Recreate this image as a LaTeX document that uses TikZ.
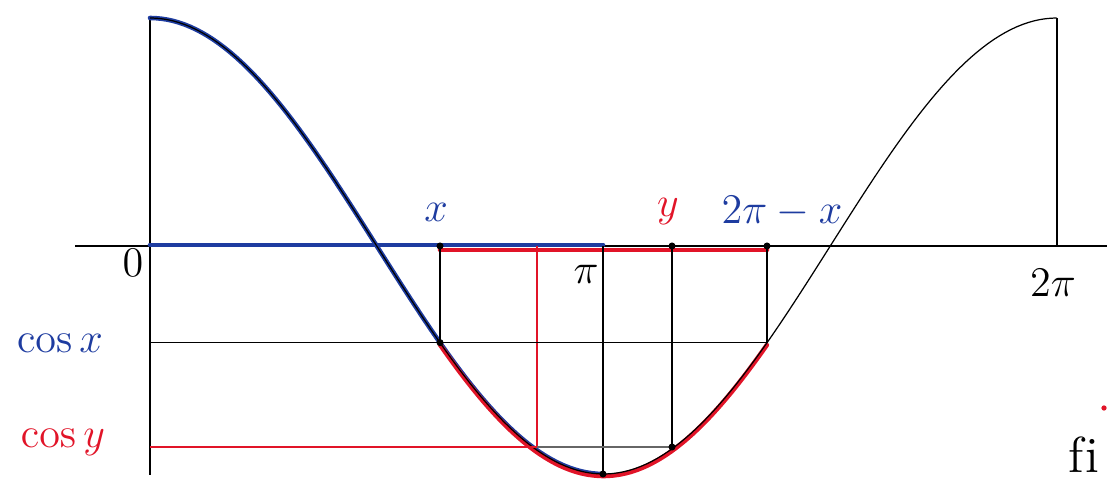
\documentclass[tikz,border=0pt]{standalone}
\usepackage{amsmath}
\usepackage{tikz}
\usepackage{xcolor}
\usetikzlibrary{calc,positioning}
\definecolor{inkblue}{RGB}{30,60,160}
\definecolor{inkred}{RGB}{225,20,40}
\tikzset{
    thinline/.style={black, line width=0.35pt},
    redthin/.style={inkred, line width=0.35pt},
    bluethick/.style={inkblue, line width=1.3pt, line cap=round},
    redthick/.style={inkred, line width=1.3pt, line cap=round},
    lbl/.style={inner sep=1pt, font=\large},
    dot/.style={circle, fill=black, inner sep=0pt, minimum size=2pt}
}
\begin{document}
\begin{tikzpicture}[x=0.01cm, y=-0.01cm]
\useasboundingbox (0,0) rectangle (1107,480);

% key points on the axis
\coordinate (O) at (150,246);
\coordinate (Otop) at (150,18);
\coordinate (Obot) at (150,475);
\coordinate (P) at (603,246);
\coordinate (Pbot) at (603,474);
\coordinate (T) at (1057,246);
\coordinate (Ttop) at (1057,18);
\coordinate (X) at (440,246);
\coordinate (Y) at (672,246);
\coordinate (Yb) at (537,246);
\coordinate (Z) at (767,246);
\coordinate (Lend) at (75,246);
\coordinate (Rend) at (1107,246);

% points on the curve
\coordinate (CX) at (440,342.6);
\coordinate (CZ) at (767,342.6);
\coordinate (CY) at (672,447);
\coordinate (CYb) at (537,447);
\coordinate (SX) at (150,342.6);
\coordinate (SY) at (150,447);

% axes
\draw[thinline] (Lend) -- (Rend);
\draw[thinline] (Otop) -- (Obot);
\draw[thinline] (Ttop) -- (T);

% highlighted arcs of the axis
\draw[bluethick] ($(O)+(0,-1)$) -- ($(P)+(0,-1)$);
\draw[redthick] ($(X)+(0,4)$) -- ($(Z)+(0,4)$);

% cosine curve with its coloured pieces
\draw[bluethick] plot[domain=0:pi, samples=80] ({150+907*\x/(2*pi)}, {246-228*cos(\x r)});
\draw[redthick] plot[domain=2.009:4.274, samples=80] ({150+907*\x/(2*pi)}, {248-228*cos(\x r)});
\draw[thinline] plot[domain=0:2*pi, samples=160] ({150+907*\x/(2*pi)}, {246-228*cos(\x r)});

% projections
\draw[thinline] (X) -- (CX);
\draw[thinline] (Z) -- (CZ);
\draw[thinline] (P) -- (Pbot);
\draw[thinline] (Y) -- (CY);
\draw[redthin] (Yb) -- (CYb);
\draw[thinline] (SX) -- (CZ);
\draw[redthin] (SY) -- (CY);
\draw[thinline, black!60] (CYb) -- (CY);

% marks
\node[dot] (dx) at (X) {};
\node[dot] (dy) at (Y) {};
\node[dot] (dz) at (Z) {};
\node[dot] (dcx) at (CX) {};
\node[dot] (dcy) at (CY) {};
\node[dot] (dp) at (Pbot) {};

% labels
\node[lbl] (l0) at (133,263) {$0$};
\node[lbl] (lpi) at (586,274) {$\pi$};
\node[lbl] (l2pi) at (1053,283) {$2\pi$};
\node[lbl, text=inkblue] (lx) at (436,212) {$x$};
\node[lbl, text=inkred] (ly) at (668,212) {$y$};
\node[lbl, text=inkblue] (lz) at (782,212) {$2\pi-x$};
\node[lbl, text=inkblue] (lcx) at (60,343) {$\cos x$};
\node[lbl, text=inkred] (lcy) at (63,443) {$\cos y$};
\node[lbl, font=\Large, anchor=east, inner sep=0pt] (lfi) at (1100,455) {f\kern0.5pt i};
\node[circle, fill=inkred, inner sep=0pt, minimum size=1.5pt] (rdot) at (1104,408) {};
\end{tikzpicture}
\end{document}
